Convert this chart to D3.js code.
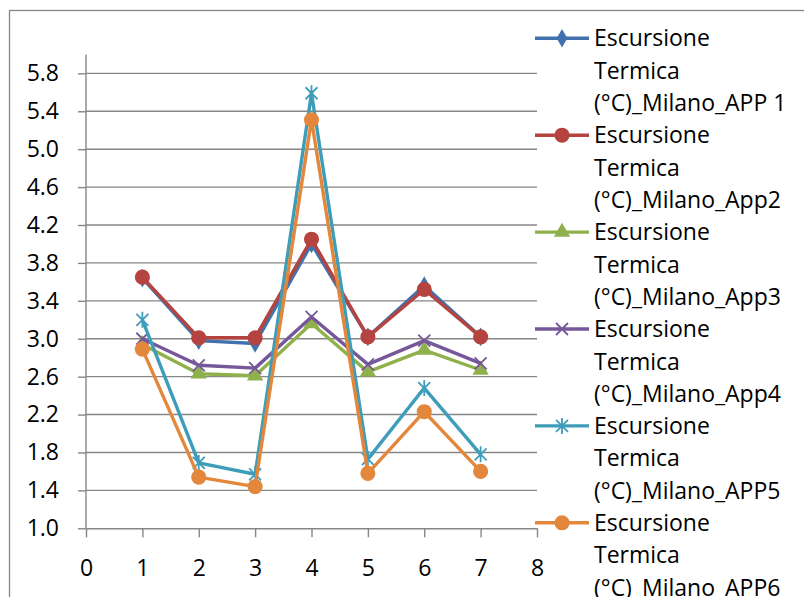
<!DOCTYPE html>
<html>
<head>
<meta charset="utf-8">
<script src="https://cdn.jsdelivr.net/npm/d3@7"></script>
<style>
  body { margin: 0; background: #fff; }
  svg { display: block; font-family: "Open Sans", sans-serif; }
</style>
</head>
<body>
<script>
// data
var days = [1, 2, 3, 4, 5, 6, 7];
var app1 = [3.64, 2.98, 2.95, 4.00, 3.02, 3.56, 3.02];
var app2 = [3.65, 3.01, 3.01, 4.05, 3.02, 3.52, 3.02];
var app3 = [2.94, 2.63, 2.61, 3.16, 2.65, 2.88, 2.67];
var app4 = [3.00, 2.72, 2.69, 3.23, 2.73, 2.98, 2.74];
var app5 = [3.20, 1.69, 1.57, 5.59, 1.73, 2.48, 1.78];
var app6 = [2.89, 1.54, 1.44, 5.31, 1.58, 2.23, 1.60];
var names = ["Escursione Termica (°C)_Milano_APP 1", "Escursione Termica (°C)_Milano_App2",
  "Escursione Termica (°C)_Milano_App3", "Escursione Termica (°C)_Milano_App4",
  "Escursione Termica (°C)_Milano_APP5", "Escursione Termica (°C)_Milano_APP6"];
var colors = ["#4272AD", "#B5433F", "#8FB14C", "#76589A", "#3E9DB9", "#E3873C"];
var markers = ["diamond", "circle", "triangle", "x", "star", "circle"];
var yTicks = [1.0, 1.4, 1.8, 2.2, 2.6, 3.0, 3.4, 3.8, 4.2, 4.6, 5.0, 5.4, 5.8];
var xTicks = [0, 1, 2, 3, 4, 5, 6, 7, 8];

var series = [app1, app2, app3, app4, app5, app6].map(function(vals, i) {
  return {name: names[i], color: colors[i], marker: markers[i],
    values: vals.map(function(v, j) { return {x: days[j], y: v}; })};
});

var W = 804, H = 597;
var plot = {left: 86, right: 537, top: 54.4, bottom: 528.3};
var gray = "#868686";

var svg = d3.select("body").append("svg").attr("width", W).attr("height", H);

// chart border
svg.append("rect").attr("x", 9.5).attr("y", 10.5).attr("width", 900).attr("height", 700)
  .attr("fill", "none").attr("stroke", gray).attr("stroke-width", 1.3);

var x = d3.scaleLinear().domain([0, 8]).range([plot.left, plot.right]);
var y = d3.scaleLinear().domain([1.0, 6.0]).range([plot.bottom, plot.top]);

// gridlines
svg.append("g").selectAll("line").data(yTicks.slice(1)).enter().append("line")
  .attr("x1", plot.left).attr("x2", plot.right)
  .attr("y1", function(d) { return y(d); }).attr("y2", function(d) { return y(d); })
  .attr("stroke", gray).attr("stroke-width", 1.4);

// y axis
var yAxis = svg.append("g").attr("transform", "translate(" + plot.left + ",0)")
  .call(d3.axisLeft(y).tickValues(yTicks).tickFormat(d3.format(".1f")).tickSize(8).tickPadding(19));
yAxis.select(".domain").attr("d", "M0," + plot.bottom + "V" + plot.top);

// x axis
var xAxis = svg.append("g").attr("transform", "translate(0," + plot.bottom + ")")
  .call(d3.axisBottom(x).tickValues(xTicks).tickSize(9).tickPadding(22).tickSizeOuter(0));

svg.selectAll(".tick line, .domain").attr("stroke", gray).attr("stroke-width", 1.4);
svg.selectAll(".tick text").attr("font-size", 23).attr("fill", "#000")
  .style("font-family", "'Open Sans', sans-serif");

function markerPath(type) {
  if (type == "diamond") return d3.symbol(d3.symbolDiamond, 100)();
  if (type == "circle") return d3.symbol(d3.symbolCircle, 180)();
  if (type == "triangle") return d3.symbol(d3.symbolTriangle, 115)();
  if (type == "x") return "M-6,-6L6,6M-6,6L6,-6";
  if (type == "star") return "M-6,-6L6,6M-6,6L6,-6M0,-8V8";
}

function drawMarker(g, s) {
  var filled = s.marker != "x" && s.marker != "star";
  g.append("path").attr("d", markerPath(s.marker))
    .attr("fill", filled ? s.color : "none")
    .attr("stroke", s.color)
    .attr("stroke-width", filled ? 0 : 1.8);
}

var line = d3.line().x(function(d) { return x(d.x); }).y(function(d) { return y(d.y); });

series.forEach(function(s) {
  var g = svg.append("g");
  g.append("path").datum(s.values).attr("d", line)
    .attr("fill", "none").attr("stroke", s.color).attr("stroke-width", 3.4)
    .attr("stroke-linejoin", "round");
  g.selectAll(".pt").data(s.values).enter().append("g")
    .attr("transform", function(d) { return "translate(" + x(d.x) + "," + y(d.y) + ")"; })
    .each(function() { drawMarker(d3.select(this), s); });
});

// legend
var legend = svg.append("g");
series.forEach(function(s, i) {
  var cy = 38.3 + i * 96.9;
  var e = legend.append("g").attr("transform", "translate(0," + cy + ")");
  e.append("line").attr("x1", 535).attr("x2", 589).attr("stroke", s.color).attr("stroke-width", 3.4);
  drawMarker(e.append("g").attr("transform", "translate(562,0)"), s);
  var parts = s.name.split(" ");
  var lines = [parts[0], parts[1], parts.slice(2).join(" ")];
  lines.forEach(function(t, k) {
    e.append("text").attr("x", 594).attr("y", k * 32.5).attr("dy", "0.35em")
      .attr("font-size", 23).attr("fill", "#000").text(t);
  });
});
</script>
</body>
</html>
